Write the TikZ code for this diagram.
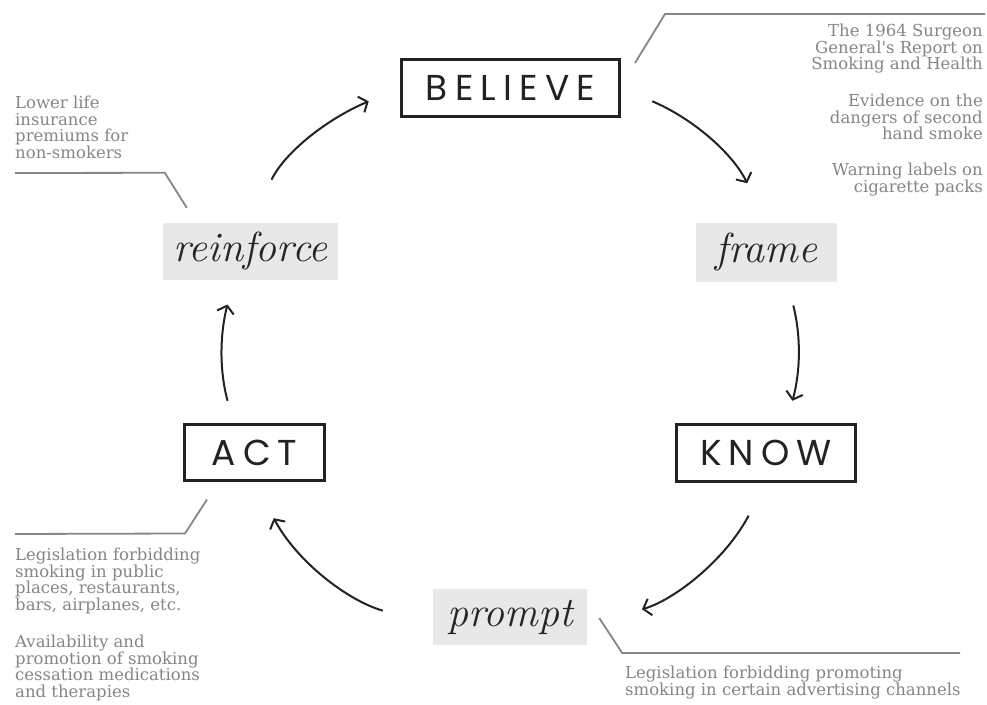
\documentclass[tikz,border=0pt]{standalone}
\usepackage{fontspec}
\newfontfamily\capsfont[LetterSpace=20]{Poppins}
\newfontfamily\notesfont{DejaVu Serif}
\newcommand\notesetup{\notesfont\fontsize{16.5}{16.8}\selectfont\lineskiplimit=-6pt\relax}
\usetikzlibrary{arrows.meta}
\definecolor{ink}{HTML}{222222}
\definecolor{notegray}{HTML}{868686}
\definecolor{stepfill}{HTML}{E8E8E8}

\begin{document}
\begin{tikzpicture}[x=1pt,y=1pt,
  stage/.style={draw=ink, line width=3pt, text=ink, inner sep=0pt,
    font=\capsfont\fontsize{36}{36}\selectfont},
  verb/.style={fill=stepfill, text=black!85, inner sep=0pt,
    font=\itshape\fontsize{42}{42}\selectfont},
  flow/.style={draw=ink, line width=2pt,
    -{Straight Barb[length=7pt,width=17pt,line width=2pt]}},
  leader/.style={draw=notegray, line width=1.8pt},
  note/.style={text=notegray, inner sep=0pt, font=\notesetup}
]
\useasboundingbox (0,0) rectangle (987,704);
\fill[white] (0,0) rectangle (987,704);

% the four stages of the cycle
\node[stage, minimum width=218pt, minimum height=57pt] (believe) at (510.5,616) {BELIEVE};
\node[stage, minimum width=179pt, minimum height=57pt] (know) at (766,251) {KNOW};
\node[stage, minimum width=140pt, minimum height=56pt] (act) at (254.5,251.5) {ACT};

% the verbs between them
\node[verb, minimum width=175pt, minimum height=57pt] (reinforce) at (250.5,452.5) {reinforce};
\node[verb, minimum width=141pt, minimum height=59pt] (frame) at (766.5,451.5) {frame};
\node[verb, minimum width=154pt, minimum height=56pt] (prompt) at (510,87) {prompt};

% clockwise arrows along one circle
\draw[flow, shorten <=48pt, shorten >=34pt] (reinforce.north) to[out=64,in=203] (believe.west);
\draw[flow, shorten <=34pt, shorten >=44pt] (believe.east) to[out=-23,in=116] (frame.north);
\draw[flow, shorten <=24pt, shorten >=23pt] ([xshift=21pt]frame.south) to[out=-76,in=75] ([xshift=20.5pt]know.north);
\draw[flow, shorten <=37pt, shorten >=57pt] (know.south) to[out=-118,in=16] ([yshift=-8pt]prompt.east);
\draw[flow, shorten <=52pt, shorten >=41pt] ([yshift=-8pt]prompt.west) to[out=164,in=-62] (act.south);
\draw[flow, shorten <=23pt, shorten >=25pt] ([xshift=-21pt]act.north) to[out=105,in=256] ([xshift=-17pt]reinforce.south);

% leader lines to the examples
\coordinate (trEnd) at (985,690);
\coordinate (tlEnd) at (15,531);
\coordinate (blEnd) at (15,170);
\coordinate (brEnd) at (960,51);
\draw[leader] ([shift={(14pt,-5pt)}]believe.north east) -- ++(30pt,49pt) -- (trEnd);
\draw[leader] ([shift={(24pt,15pt)}]reinforce.north west) -- ++(-22pt,35pt) -- (tlEnd);
\draw[leader] ([shift={(24pt,-17.5pt)}]act.south west) -- ++(-22pt,-34pt) -- (blEnd);
\draw[leader] ([shift={(12pt,-1pt)}]prompt.east) -- ++(23pt,-35pt) -- (brEnd);

% examples
\node[note, anchor=north east, align=right] (believeA) at (983,680.5)
  {The 1964 Surgeon\\General's Report on\\Smoking and Health};
\node[note, anchor=north east, align=right] (believeB) at (983,610.5)
  {Evidence on the\\dangers of second\\hand smoke};
\node[note, anchor=north east, align=right] (believeC) at (983,541.5)
  {Warning labels on\\cigarette packs};
\node[note, anchor=north west, align=left] (reinforceA) at (15,608.5)
  {Lower life\\insurance\\premiums for\\non-smokers};
\node[note, anchor=north west, align=left] (actA) at (15,156.5)
  {Legislation forbidding\\smoking in public\\places, restaurants,\\bars, airplanes, etc.};
\node[note, anchor=north west, align=left] (actB) at (15,69.5)
  {Availability and\\promotion of smoking\\cessation medications\\and therapies};
\node[note, anchor=north west, align=left] (promptA) at (625,38.5)
  {Legislation forbidding promoting\\smoking in certain advertising channels};
\end{tikzpicture}
\end{document}
